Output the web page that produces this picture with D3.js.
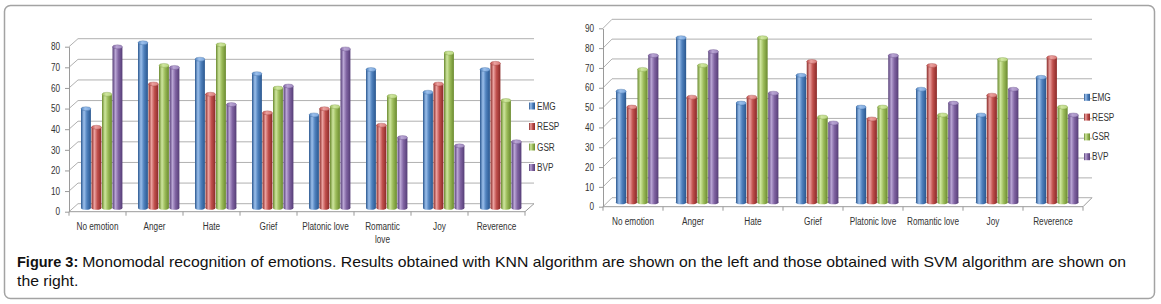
<!DOCTYPE html>
<html>
<head>
<meta charset="utf-8">
<script src="https://cdn.jsdelivr.net/npm/d3@7"></script>
<style>
  html, body { margin: 0; padding: 0; background: #fff; }
  svg { display: block; }
  .ax text { font-family: "Liberation Sans Narrow", "Arial Narrow", "Liberation Sans", Arial, sans-serif; font-size: 10px; fill: #333; }
  .caption { font-family: "Liberation Sans", Arial, sans-serif; font-size: 14.5px; fill: #111; }
</style>
</head>
<body>
<svg id="chart" width="1161" height="304"></svg>
<script>
// ---------- data ----------
const categories = ["No emotion", "Anger", "Hate", "Grief", "Platonic love", "Romantic love", "Joy", "Reverence"];
const seriesNames = ["EMG", "RESP", "GSR", "BVP"];

// KNN (left chart)
const knnEMG  = [48, 80, 72, 65, 45, 67, 56, 67];
const knnRESP = [39, 60, 55, 46, 48, 40, 60, 70];
const knnGSR  = [55, 69, 79, 58, 49, 54, 75, 52];
const knnBVP  = [78, 68, 50, 59, 77, 34, 30, 32];

// SVM (right chart)
const svmEMG  = [56, 83, 50, 64, 48, 57, 44, 63];
const svmRESP = [48, 53, 53, 71, 42, 69, 54, 73];
const svmGSR  = [67, 69, 83, 43, 48, 44, 72, 48];
const svmBVP  = [74, 76, 55, 40, 74, 50, 57, 44];

const knnTicks = [0, 10, 20, 30, 40, 50, 60, 70, 80];
const svmTicks = [0, 10, 20, 30, 40, 50, 60, 70, 80, 90];

const captionBold = "Figure 3:";
const captionLine1 = "Monomodal recognition of emotions. Results obtained with KNN algorithm are shown on the left and those obtained with SVM algorithm are shown on";
const captionLine2 = "the right.";

// ---------- styling ----------
const colors = {
  EMG:  {base: "#4f81bd", dark: "#2a578f", light: "#9cc0ec", top: "#7aa6dc"},
  RESP: {base: "#c0504d", dark: "#8a2a28", light: "#eba19f", top: "#d97d7a"},
  GSR:  {base: "#9bbb59", dark: "#6a8a2f", light: "#cfe69f", top: "#b9d67f"},
  BVP:  {base: "#8064a2", dark: "#553d76", light: "#b9a5d4", top: "#a18bc0"}
};
const NARROW = 0.82; // emulate a condensed (Calibri-like) face

function condense(sel) {
  sel.each(function() {
    const w = this.getComputedTextLength();
    d3.select(this).attr("textLength", w * NARROW).attr("lengthAdjust", "spacingAndGlyphs");
  });
}

const svg = d3.select("#chart");
const defs = svg.append("defs");
seriesNames.forEach(s => {
  const c = colors[s];
  const g = defs.append("linearGradient").attr("id", "grad-" + s)
    .attr("x1", "0%").attr("x2", "100%").attr("y1", "0%").attr("y2", "0%");
  g.append("stop").attr("offset", "0%").attr("stop-color", c.dark);
  g.append("stop").attr("offset", "30%").attr("stop-color", c.light);
  g.append("stop").attr("offset", "60%").attr("stop-color", c.base);
  g.append("stop").attr("offset", "100%").attr("stop-color", c.dark);
  const t = defs.append("linearGradient").attr("id", "top-" + s)
    .attr("x1", "0%").attr("x2", "100%").attr("y1", "0%").attr("y2", "0%");
  t.append("stop").attr("offset", "0%").attr("stop-color", c.base);
  t.append("stop").attr("offset", "40%").attr("stop-color", c.light);
  t.append("stop").attr("offset", "100%").attr("stop-color", c.top);
});

// outer frame
svg.append("rect")
  .attr("x", 4.5).attr("y", 5.5).attr("width", 1150).attr("height", 293)
  .attr("rx", 6).attr("fill", "none").attr("stroke", "#a3a3a3").attr("stroke-width", 1.5);

function drawChart(opt) {
  const values = {EMG: opt.emg, RESP: opt.resp, GSR: opt.gsr, BVP: opt.bvp};
  const data = categories.map((c, i) => ({cat: c, vals: seriesNames.map(s => ({s, v: values[s][i]}))}));

  const x0 = d3.scaleBand().domain(categories)
    .range([opt.axisX, opt.axisX + opt.catW * categories.length]).padding(0);
  const x1 = d3.scaleBand().domain(seriesNames).range([0, x0.bandwidth()])
    .paddingInner(0).paddingOuter(opt.outerPad);
  const y = d3.scaleLinear().domain([0, d3.max(opt.ticks)]).range([opt.y0, opt.yTop]);

  const g = svg.append("g");
  const frontRight = x0.range()[1];
  const backRight = frontRight + opt.dx;

  // 3D gridlines (front diagonal + back wall)
  g.append("g").selectAll("path").data(opt.ticks).join("path")
    .attr("d", t => `M${opt.axisX},${y(t)}L${opt.axisX + opt.dx},${y(t) + opt.dy}L${backRight},${y(t) + opt.dy}`)
    .attr("fill", "none").attr("stroke", "#b0b0b0").attr("stroke-width", 1);

  // floor front edge
  g.append("path")
    .attr("d", `M${opt.axisX},${y(0)}L${frontRight},${y(0)}L${backRight},${y(0) + opt.dy}`)
    .attr("fill", "none").attr("stroke", "#9a9a9a").attr("stroke-width", 1);

  // category boundary ticks
  g.append("g").selectAll("line").data(d3.range(categories.length + 1)).join("line")
    .attr("x1", i => opt.axisX + i * x0.step()).attr("x2", i => opt.axisX + i * x0.step())
    .attr("y1", y(0)).attr("y2", y(0) + 4)
    .attr("stroke", "#9a9a9a").attr("stroke-width", 1);

  // y axis
  const yAxis = d3.axisLeft(y).tickValues(opt.ticks).tickSize(4).tickSizeOuter(0).tickPadding(5);
  const ya = g.append("g").attr("class", "ax").attr("transform", `translate(${opt.axisX},0)`).call(yAxis);
  ya.select(".domain").attr("stroke", "#9a9a9a");
  ya.selectAll(".tick line").attr("stroke", "#9a9a9a");
  condense(ya.selectAll(".tick text"));

  // x labels
  const xAxis = d3.axisBottom(x0).tickSize(0).tickPadding(opt.labelPad);
  const xa = g.append("g").attr("class", "ax").attr("transform", `translate(0,${y(0)})`).call(xAxis);
  xa.select(".domain").remove();
  xa.selectAll(".tick text").each(function(d) {
    const el = d3.select(this);
    if (opt.wrap && this.getComputedTextLength() * NARROW > opt.wrap) {
      const words = d.split(" ");
      el.text(null);
      words.forEach((w, i) => {
        el.append("tspan").attr("x", 0).attr("dy", i === 0 ? "0.71em" : "1.35em").text(w);
      });
      el.attr("dy", null);
      condense(el.selectAll("tspan"));
    } else {
      condense(el);
    }
  });

  // bars (cylinders) at mid depth
  const ox = opt.dx / 2, oy = opt.dy / 2;
  const bw = x1.bandwidth() - 0.6;
  const ry = 2;
  const groups = g.append("g").selectAll("g").data(data).join("g")
    .attr("transform", d => `translate(${x0(d.cat) + ox},${oy})`);
  const bars = groups.selectAll("g").data(d => d.vals).join("g")
    .attr("transform", d => `translate(${x1(d.s)},0)`);
  bars.append("ellipse")
    .attr("cx", bw / 2).attr("cy", y(0)).attr("rx", bw / 2).attr("ry", ry)
    .attr("fill", d => `url(#grad-${d.s})`);
  bars.append("rect")
    .attr("x", 0).attr("width", bw)
    .attr("y", d => y(d.v)).attr("height", d => y(0) - y(d.v))
    .attr("fill", d => `url(#grad-${d.s})`);
  bars.append("ellipse")
    .attr("cx", bw / 2).attr("cy", d => y(d.v)).attr("rx", bw / 2).attr("ry", ry)
    .attr("fill", d => `url(#top-${d.s})`)
    .attr("stroke", d => colors[d.s].dark).attr("stroke-width", 0.3);

  // legend
  const lg = g.append("g").attr("class", "ax")
    .attr("transform", `translate(${opt.legendX},${opt.legendY})`);
  const li = lg.selectAll("g").data(seriesNames).join("g")
    .attr("transform", (d, i) => `translate(0,${i * opt.legendStep})`);
  li.append("rect").attr("x", 0).attr("y", -3.5).attr("width", 6).attr("height", 7)
    .attr("fill", d => `url(#grad-${d})`);
  const lt = li.append("text").attr("x", 8).attr("dy", "0.35em").text(d => d);
  condense(lt);
}

drawChart({
  emg: knnEMG, resp: knnRESP, gsr: knnGSR, bvp: knnBVP, ticks: knnTicks,
  axisX: 69, catW: 57, y0: 211.7, yTop: 46.7, dx: 9, dy: -8, outerPad: 0.714,
  labelPad: 11, wrap: 48, legendX: 529, legendY: 106, legendStep: 20.5
});
drawChart({
  emg: svmEMG, resp: svmRESP, gsr: svmGSR, bvp: svmBVP, ticks: svmTicks,
  axisX: 603, catW: 60, y0: 206.7, yTop: 28.3, dx: 9, dy: -9, outerPad: 0.79,
  labelPad: 11, wrap: 0, legendX: 1084, legendY: 97.3, legendStep: 19.8
});

// caption
const capB = svg.append("text").attr("class", "caption").attr("x", 17).attr("y", 267)
  .attr("font-weight", "bold").text(captionBold);
const boldEnd = 17 + capB.node().getComputedTextLength() + 4;
const cap1 = svg.append("text").attr("class", "caption").attr("x", boldEnd).attr("y", 267).text(captionLine1);
const natural = cap1.node().getComputedTextLength();
const stretch = (1126 - boldEnd) / natural;
cap1.attr("textLength", natural * stretch).attr("lengthAdjust", "spacingAndGlyphs");
const cap2 = svg.append("text").attr("class", "caption").attr("x", 17).attr("y", 286).text(captionLine2);
cap2.attr("textLength", cap2.node().getComputedTextLength() * stretch).attr("lengthAdjust", "spacingAndGlyphs");
</script>
</body>
</html>
